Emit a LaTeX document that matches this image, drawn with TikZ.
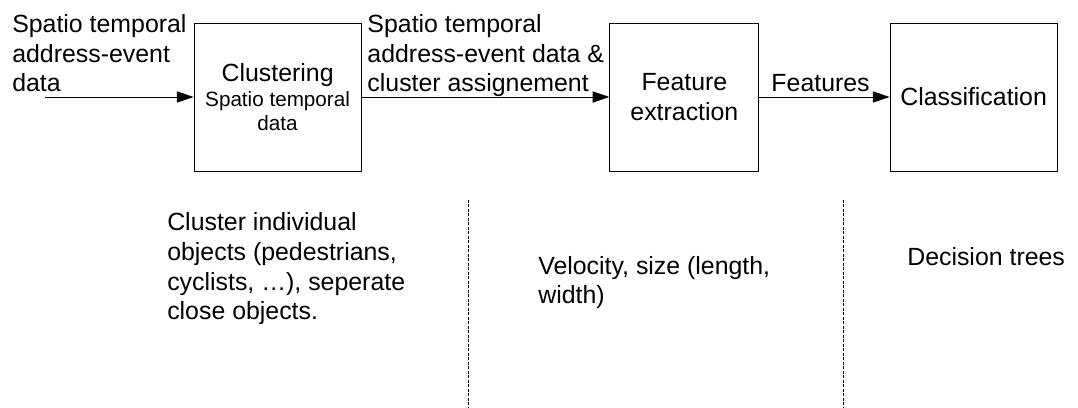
\documentclass[tikz,border=0pt]{standalone}
\usepackage{fontspec}
\setmainfont{Liberation Sans}
\usetikzlibrary{arrows.meta,positioning}

\newcommand{\mainsize}{\fontsize{17.7}{21.3}\selectfont}
\newcommand{\subsize}{\fontsize{14.7}{17}\selectfont}

\begin{document}
\begin{tikzpicture}[
    stage/.style={draw, line width=0.7pt, rectangle, minimum height=3.7cm, align=center, font=\mainsize, inner sep=0pt},
    arrow/.style={-{Triangle[length=0.42cm,width=0.28cm]}, line width=0.7pt},
    note/.style={align=left, font=\mainsize, inner sep=0pt},
    divider/.style={dashed, dash pattern=on 2pt off 1.2pt, line width=0.6pt}
]
    \useasboundingbox (0,0) rectangle (26.95,-10.2);

    % Stages
    \node[stage, minimum width=4.175cm] (clu) at (6.94,-2.425) {};
    \node[font=\mainsize, anchor=base] (clutitle) at (6.94,-2.03) {Clustering};
    \node[font=\subsize, align=center, anchor=base] (clusub) at (6.94,-3.27) {Spatio temporal\\data};
    \node[stage, minimum width=3.725cm] (fex) at (17.11,-2.425) {Feature\\extraction};
    \node[stage, minimum width=4.175cm] (cls) at (24.34,-2.425) {Classification};

    % Arrows
    \coordinate (in) at (1.125,-2.425);
    \draw[arrow] (in) -- (clu);
    \draw[arrow] (clu) -- (fex);
    \draw[arrow] (fex) -- (cls);

    % Arrow labels
    \node[note, anchor=base west] (inlbl) at (0.3,-2.3) {Spatio temporal\\address-event\\data};
    \node[note, anchor=base west] (midlbl) at (9.18,-2.3) {Spatio temporal\\address-event data \&\\cluster assignement};
    \node[note, anchor=base west] (ftlbl) at (19.28,-2.3) {Features};

    % Dividers
    \draw[divider] (11.7,-5.0) -- (11.7,-10.2);
    \draw[divider] (21.075,-5.0) -- (21.075,-10.2);

    % Notes below
    \node[note, anchor=base west] (clunote) at (4.175,-8.0) {Cluster individual\\objects (pedestrians,\\cyclists, \dots), seperate\\close objects.};
    \node[note, anchor=base west] (fexnote) at (13.45,-7.6) {Velocity, size (length,\\width)};
    \node[note, anchor=base west] (clsnote) at (22.675,-6.65) {Decision trees};

\end{tikzpicture}
\end{document}
